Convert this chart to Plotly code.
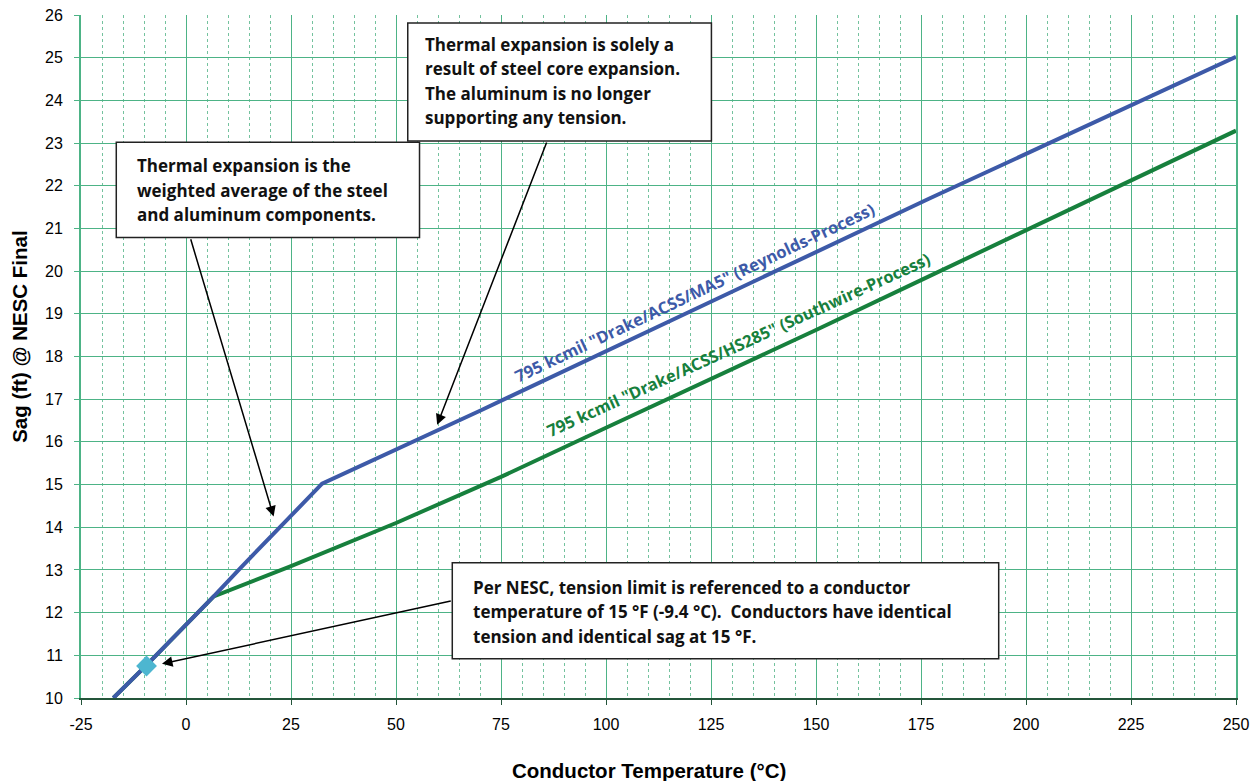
import plotly.graph_objects as go

# ---- data ----
blue_temp = [-17.3, -9.4, 6.6, 13.0, 32.4, 70, 177, 250]
blue_sag = [10.0, 10.77, 12.38, 13.05, 15.02, 16.73, 21.7, 25.02]

green_temp = [-17.3, -9.4, 6.6, 25, 50, 75, 100, 125, 150, 175, 200, 225, 250]
green_sag = [10.0, 10.77, 12.38, 13.09, 14.1, 15.18, 16.33, 17.47, 18.62, 19.79,
             20.96, 22.12, 23.29]

ref_temp = [-9.4]
ref_sag = [10.75]

blue_name = '795 kcmil "Drake/ACSS/MA5" (Reynolds-Process)'
green_name = '795 kcmil "Drake/ACSS/HS285" (Southwire-Process)'

x_tick_vals = [-25, 0, 25, 50, 75, 100, 125, 150, 175, 200, 225, 250]
x_tick_text = ["-25", "0", "25", "50", "75", "100", "125", "150", "175", "200", "225", "250"]

x_range = [-25, 250]
y_range = [10, 26]

BLUE = "#3D5AA8"
GREEN = "#17803D"
GRID = "#4DB386"
MINOR = "#74C29E"
TXT_FONT = "'Open Sans', 'Noto Sans', sans-serif"
AX_FONT = "'Liberation Sans', Arial, sans-serif"

fig = go.Figure()
fig.add_trace(go.Scatter(x=green_temp, y=green_sag, mode="lines",
                         line=dict(color=GREEN, width=4), name=green_name, hoverinfo="skip"))
fig.add_trace(go.Scatter(x=blue_temp, y=blue_sag, mode="lines",
                         line=dict(color=BLUE, width=4), name=blue_name, hoverinfo="skip"))
fig.add_trace(go.Scatter(x=ref_temp, y=ref_sag, mode="markers",
                         marker=dict(symbol="diamond", size=16, color="#4DB6D0",
                                     line=dict(width=0)),
                         name="15 °F", hoverinfo="skip"))

# annotation boxes
boxes = [
    dict(x0=-16.6, x1=55.6, y0=20.79, y1=23.02),
    dict(x0=52.8, x1=125.1, y0=23.05, y1=25.81),
    dict(x0=63.4, x1=193.5, y0=10.92, y1=13.17),
]
for b in boxes:
    fig.add_shape(type="rect", xref="x", yref="y", layer="above",
                  fillcolor="white", line=dict(color="#222222", width=1.5), **b)

LINE_STEP = 24.5 / 42.7  # line spacing in y units
text_blocks = [
    (-12.24, 21.90, ["Thermal expansion is the",
                     "weighted average of the steel",
                     "and aluminum components."]),
    (56.43, 24.45, ["Thermal expansion is solely a",
                    "result of steel core expansion.",
                    "The aluminum is no longer",
                    "supporting any tension."]),
    (67.9, 12.02, ["Per NESC, tension limit is referenced to a conductor",
                   "temperature of 15 °F (-9.4 °C). &nbsp;Conductors have identical",
                   "tension and identical sag at 15 °F."]),
]
for x, yc, lines in text_blocks:
    n = len(lines)
    for i, t in enumerate(lines):
        y = yc + ((n - 1) / 2 - i) * LINE_STEP
        fig.add_annotation(x=x, y=y, xref="x", yref="y", text="<b>" + t + "</b>",
                           showarrow=False, xanchor="left", yanchor="middle", align="left",
                           font=dict(family=TXT_FONT, size=17, color="#111111"))

arrows = [
    (20.86, 14.25, 1.02, 20.78),
    (59.8, 16.40, 86.0, 23.05),
    (-5.71, 10.80, 63.4, 12.28),
]
for hx, hy, tx, ty in arrows:
    fig.add_annotation(x=hx, y=hy, ax=tx, ay=ty, xref="x", yref="y", axref="x", ayref="y",
                       text="", showarrow=True, arrowhead=2, arrowsize=1.4, arrowwidth=1.5,
                       arrowcolor="black")

# series labels along the lines
fig.add_annotation(x=121.0, y=19.49, xref="x", yref="y", text="<b>" + blue_name + "</b>",
                   showarrow=False, textangle=-25.3,
                   font=dict(family=TXT_FONT, size=16.5, color=BLUE))
fig.add_annotation(x=131.5, y=18.28, xref="x", yref="y", text="<b>" + green_name + "</b>",
                   showarrow=False, textangle=-24.5,
                   font=dict(family=TXT_FONT, size=16.5, color=GREEN))

# axis titles
fig.add_annotation(x=-0.0527, y=0.529, xref="paper", yref="paper",
                   text="<b>Sag (ft) @ NESC Final</b>", showarrow=False, textangle=-90,
                   xanchor="center", yanchor="middle",
                   font=dict(family=AX_FONT, size=20.5, color="black"))
fig.add_annotation(x=0.492, y=-0.1065, xref="paper", yref="paper",
                   text="<b>Conductor Temperature (°C)</b>", showarrow=False,
                   xanchor="center", yanchor="middle",
                   font=dict(family=AX_FONT, size=20.5, color="black"))

fig.update_xaxes(range=x_range, tickmode="array", tickvals=x_tick_vals, ticktext=x_tick_text,
                 showgrid=True, gridcolor=GRID, gridwidth=1.4,
                 minor=dict(dtick=5, tick0=0, showgrid=True, gridcolor=MINOR, gridwidth=1.1,
                            griddash="dot"),
                 showline=True, linecolor="#24553A", linewidth=2,
                 ticks="outside", ticklen=5, tickcolor="#24553A", tickwidth=1.3,
                 zeroline=False, ticklabelstandoff=6, automargin=False,
                 tickfont=dict(family=AX_FONT, size=16, color="black"))
fig.update_yaxes(range=y_range, dtick=1, showgrid=True, gridcolor=GRID, gridwidth=1.4,
                 showline=True, linecolor=GRID, linewidth=2, mirror=True,
                 ticks="outside", ticklen=5, tickcolor=GRID, tickwidth=1.3,
                 zeroline=False, ticklabelstandoff=8, automargin=False,
                 tickfont=dict(family=AX_FONT, size=16, color="black"))

fig.update_layout(width=1258, height=781, margin=dict(l=81, r=22, t=15, b=83),
                  plot_bgcolor="white", paper_bgcolor="white", showlegend=False)

fig.write_html("out.html", config={"displayModeBar": False},
               post_script="document.body.style.margin='0';document.body.style.overflow='hidden';")
